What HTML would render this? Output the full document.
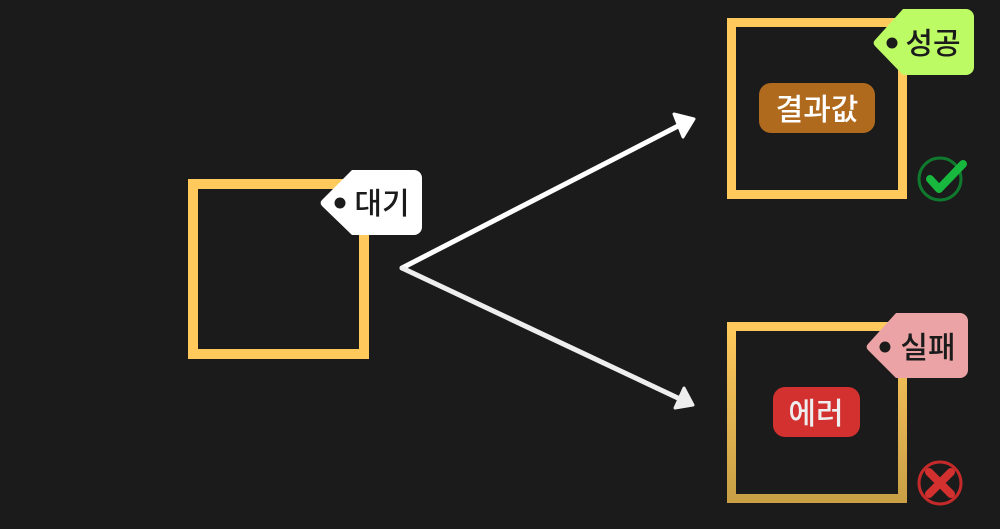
<!DOCTYPE html>
<html><head><meta charset="utf-8"><style>
html,body{margin:0;padding:0;background:#1b1b1b;}
body{width:1000px;height:524px;overflow:hidden;font-family:"Liberation Sans","Noto Sans CJK KR",sans-serif;}
</style></head><body>
<svg width="1000" height="524" viewBox="0 0 1000 524" xmlns="http://www.w3.org/2000/svg" style="font-family:'Liberation Sans','Noto Sans CJK KR',sans-serif">
<defs>
<linearGradient id="g2" x1="0" y1="0" x2="0" y2="1"><stop offset="0" stop-color="#ffc95c"/><stop offset="1" stop-color="#c9a046"/></linearGradient>
</defs>
<rect width="1000" height="524" fill="#1b1b1b"/>
<g>
<rect x="193" y="184" width="171" height="170" fill="none" stroke="#ffc95c" stroke-width="10"/>
</g>
<g>
<path d="M352,170 H414 a8,8 0 0 1 8,8 V227 a8,8 0 0 1 -8,8 H352 L322,206 a4,4 0 0 1 0,-6 Z" fill="#ffffff"/>
<circle cx="340" cy="203" r="5.5" fill="#1b1b1b"/>
<text x="382" y="214" font-size="30" fill="#1b1b1b" text-anchor="middle" font-weight="500">대기</text>
</g>
<g>
<path d="M402,268 L680,125" stroke="#ffffff" stroke-width="5" fill="none" stroke-linecap="round"/>
<path d="M674,114 L694,119 L683,137 Z" fill="#ffffff" stroke="#ffffff" stroke-width="3" stroke-linejoin="round"/>
<path d="M402,268 L680,399" stroke="#eeeeee" stroke-width="5" fill="none" stroke-linecap="round"/>
<path d="M684,388 L693,405 L675,408 Z" fill="#eeeeee" stroke="#eeeeee" stroke-width="3" stroke-linejoin="round"/>
</g>
<g>
<rect x="731.5" y="22.5" width="171" height="172" fill="none" stroke="#ffc95c" stroke-width="9"/>
<rect x="759" y="83" width="116" height="50" rx="12" fill="#b06a1e"/>
<text x="817" y="120" font-size="30" fill="#ffffff" text-anchor="middle" font-weight="500">결과값</text>
</g>
<g>
<path d="M903,9 H966 a8,8 0 0 1 8,8 V67 a8,8 0 0 1 -8,8 H903 L875,46 a4,4 0 0 1 0,-6 Z" fill="#bdfb64"/>
<circle cx="892" cy="43" r="5.5" fill="#1b1b1b"/>
<text x="933" y="54" font-size="30" fill="#1b1b1b" text-anchor="middle" font-weight="500">성공</text>
</g>
<g>
<circle cx="940" cy="179" r="21" fill="none" stroke="#0f7a2e" stroke-width="3"/>
<path d="M930,179 L939,189 L963,164" fill="none" stroke="#18b83e" stroke-width="8" stroke-linecap="round" stroke-linejoin="round"/>
</g>
<g>
<rect x="731.5" y="326.5" width="171" height="172" fill="none" stroke="url(#g2)" stroke-width="9"/>
<rect x="773" y="387" width="87" height="50" rx="12" fill="#d33030"/>
<text x="816" y="424" font-size="30" fill="#eeeeee" text-anchor="middle" font-weight="500">에러</text>
</g>
<g>
<path d="M896,313 H960 a8,8 0 0 1 8,8 V370 a8,8 0 0 1 -8,8 H896 L868,350 a4,4 0 0 1 0,-6 Z" fill="#eba3a5"/>
<circle cx="885" cy="347" r="5.5" fill="#1b1b1b"/>
<text x="928" y="358" font-size="30" fill="#1b1b1b" text-anchor="middle" font-weight="500">실패</text>
</g>
<g>
<circle cx="940" cy="483" r="21" fill="none" stroke="#c42a2a" stroke-width="3"/>
<path d="M929,472 L951,494 M951,472 L929,494" stroke="#d33030" stroke-width="8" stroke-linecap="round"/>
</g>
</svg>
</body></html>
